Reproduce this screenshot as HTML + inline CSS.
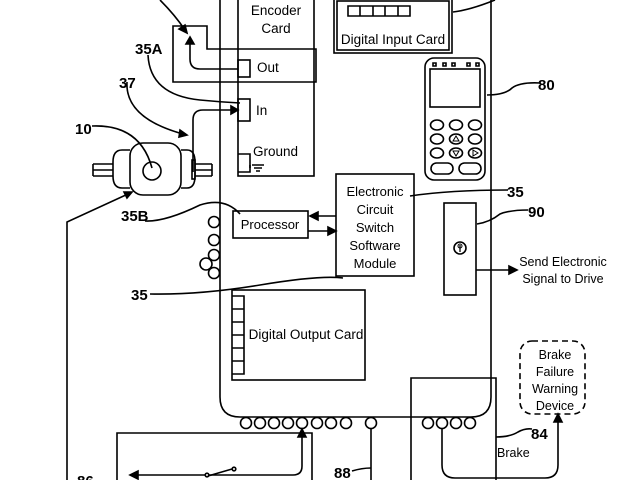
<!DOCTYPE html>
<html><head><meta charset="utf-8"><style>
html,body{margin:0;padding:0;background:#fff}
svg{display:block}
text{font-family:"Liberation Sans",sans-serif;fill:#000}
.b{font-family:"Liberation Sans",sans-serif;font-weight:bold}
</style></head><body>
<svg width="640" height="480" viewBox="0 0 640 480" xmlns="http://www.w3.org/2000/svg">
<g fill="none" stroke="#000" stroke-width="1.6">
<path d="M220,0 V397 Q220,417 240,417 H471 Q491,417 491,397 V0"/>
<rect x="238" y="-2" width="76" height="178"/>
<path d="M173,26 H207 V49 H316 V82 H173 Z"/>
<rect x="238" y="60" width="12" height="17"/>
<rect x="238" y="99" width="12" height="22"/>
<path d="M238,154 H250 V172 H238"/>
<path d="M250,165 V168 M252,165 H264 M254,168 H262 M256,171 H260"/>
<path d="M238,69 H200 Q190,69 190,59 V40"/>
<path d="M190,37 l-4,7 h8 z" fill="#000"/>
<path d="M148,55 Q150,95 200,100 Q220,102 240,103"/>
<path d="M193,172 V120 Q193,110 203,110 H233"/>
<path d="M238,110 l-7,-4 v8 z" fill="#000"/>
<path d="M127,82 Q125,118 183,134"/>
<path d="M187,135 l-7,-5 l-1,7 z" fill="#000"/>
<path d="M160,0 Q175,15 185,30"/>
<path d="M187,33 l-2,-8 l-6,4 z" fill="#000"/>
<rect x="130" y="143" width="51" height="52" rx="13"/>
<path d="M130,150 H122 Q113,150 113,162 V176 Q113,188 122,188 H130"/>
<path d="M181,150 H187 Q195,150 195,162 V176 Q195,188 187,188 H181"/>
<rect x="192" y="160" width="3" height="19"/>
<path d="M93,164 H113 M93,170 H113 M93,176 H113 M93,164 V176"/>
<path d="M195,164 H212 M195,170 H212 M195,176 H212 M212,164 V176"/>
<circle cx="152" cy="171" r="9"/>
<path d="M92,126 Q140,124 152,168"/>
<path d="M67,480 V222 L128,194"/>
<path d="M132,192 l-8,0 l3,6 z" fill="#000"/>
<path d="M145,221 Q165,222 200,205 Q225,197 240,214"/>
<circle cx="214" cy="222" r="5.5"/>
<circle cx="214" cy="240" r="5.5"/>
<circle cx="214" cy="255" r="5.5"/>
<circle cx="214" cy="273" r="5.5"/>
<circle cx="206" cy="264" r="6"/>
<rect x="334" y="-2" width="118" height="55"/>
<rect x="337" y="1" width="112" height="49"/>
<path d="M348,6 H410 V16 H348 Z M360,6 V16 M373,6 V16 M385,6 V16 M398,6 V16"/>
<path d="M453,12 Q470,10 495,0"/>
<rect x="425" y="58" width="60" height="122" rx="9"/>
<rect x="430" y="69" width="50" height="38"/>
<path d="M433,63h3v3h-3z M443,63h3v3h-3z M452,63h3v3h-3z M467,63h3v3h-3z M476,63h3v3h-3z"/>
<ellipse cx="437" cy="125" rx="6.5" ry="5"/><ellipse cx="456" cy="125" rx="6.5" ry="5"/><ellipse cx="475" cy="125" rx="6.5" ry="5"/>
<ellipse cx="437" cy="139" rx="6.5" ry="5"/><ellipse cx="456" cy="139" rx="6.5" ry="5"/><ellipse cx="475" cy="139" rx="6.5" ry="5"/>
<ellipse cx="437" cy="153" rx="6.5" ry="5"/><ellipse cx="456" cy="153" rx="6.5" ry="5"/><ellipse cx="475" cy="153" rx="6.5" ry="5"/>
<path d="M453,141 l3,-5 l3,5 z M453,151 l3,5 l3,-5 z M473,150 l5,3 l-5,3 z" stroke-width="1"/>
<rect x="431" y="163" width="22" height="11" rx="5.5"/><rect x="459" y="163" width="22" height="11" rx="5.5"/>
<path d="M487,95 Q505,95 512,88 Q520,82 540,83"/>
<rect x="336" y="174" width="78" height="102"/>
<path d="M410,196 Q450,190 508,190"/>
<rect x="233" y="211" width="75" height="27"/>
<path d="M336,216 H316"/><path d="M310,216 l8,-4 v8 z" fill="#000"/>
<path d="M308,231 H330"/><path d="M336,231 l-8,-4 v8 z" fill="#000"/>
<path d="M150,294 Q200,295 260,285 Q320,275 343,278"/>
<rect x="444" y="203" width="32" height="92"/>
<circle cx="460" cy="248" r="6"/><path d="M460,245 v7" stroke-width="1.3"/><circle cx="460" cy="246" r="2" stroke-width="1"/>
<path d="M477,224 Q490,222 500,214 Q510,210 528,210"/>
<path d="M476,270 H510"/><path d="M517,270 l-8,-4 v8 z" fill="#000"/>
<rect x="232" y="290" width="133" height="90"/>
<path d="M232,296 H244 V374 H232 M232,309 H244 M232,322 H244 M232,335 H244 M232,348 H244 M232,361 H244"/>
<circle cx="246" cy="423" r="5.5"/><circle cx="260" cy="423" r="5.5"/><circle cx="274" cy="423" r="5.5"/><circle cx="288" cy="423" r="5.5"/><circle cx="302" cy="423" r="5.5"/><circle cx="317" cy="423" r="5.5"/><circle cx="331" cy="423" r="5.5"/><circle cx="346" cy="423" r="5.5"/>
<circle cx="371" cy="423" r="5.5"/>
<circle cx="428" cy="423" r="5.5"/><circle cx="442" cy="423" r="5.5"/><circle cx="456" cy="423" r="5.5"/><circle cx="470" cy="423" r="5.5"/>
<path d="M117,480 V433 H312 V480"/>
<path d="M302,437 V466 Q302,475 293,475 H136"/>
<path d="M302,429 l-4,8 h8 z" fill="#000"/>
<path d="M130,475 l8,-4 v8 z" fill="#000"/>
<circle cx="207" cy="475" r="1.8" fill="#fff"/><path d="M208,476 L232,469" /><circle cx="234" cy="469" r="1.8" fill="#fff"/>
<path d="M371,429 V480"/><path d="M352,471 Q362,468 371,468"/>
<path d="M411,480 V378 H496 V480"/>
<path d="M442,429 V465 Q442,478 455,478 H545 Q558,478 558,465 V422"/>
<path d="M558,414 l-4,8 h8 z" fill="#000"/>
<path d="M496,437 Q510,437 518,432 Q525,428 532,429"/>
<rect x="520" y="341" width="65" height="73" rx="12" stroke-dasharray="6,4"/>
</g>
<text x="276" y="15" font-size="13.5" text-anchor="middle">Encoder</text>
<text x="276" y="33" font-size="13.5" text-anchor="middle">Card</text>
<text x="257" y="72" font-size="13.5">Out</text>
<text x="256" y="115" font-size="13.5">In</text>
<text x="253" y="156" font-size="13.5">Ground</text>
<text x="393" y="44" font-size="13.5" text-anchor="middle">Digital Input Card</text>
<text x="375" y="196" font-size="13" text-anchor="middle">Electronic</text>
<text x="375" y="214" font-size="13" text-anchor="middle">Circuit</text>
<text x="375" y="232" font-size="13" text-anchor="middle">Switch</text>
<text x="375" y="250" font-size="13" text-anchor="middle">Software</text>
<text x="375" y="268" font-size="13" text-anchor="middle">Module</text>
<text x="270" y="229" font-size="13" text-anchor="middle">Processor</text>
<text x="306" y="339" font-size="13.5" text-anchor="middle">Digital Output Card</text>
<text x="563" y="266" font-size="12.5" text-anchor="middle">Send  Electronic</text>
<text x="563" y="283" font-size="12.5" text-anchor="middle">Signal to Drive</text>
<text x="555" y="359" font-size="12.5" text-anchor="middle">Brake</text>
<text x="555" y="376" font-size="12.5" text-anchor="middle">Failure</text>
<text x="555" y="393" font-size="12.5" text-anchor="middle">Warning</text>
<text x="555" y="410" font-size="12.5" text-anchor="middle">Device</text>
<text x="497" y="457" font-size="12.5">Brake</text>
<g class="b" font-size="15">
<text x="135" y="54">35A</text>
<text x="119" y="88">37</text>
<text x="75" y="134">10</text>
<text x="121" y="221">35B</text>
<text x="131" y="300">35</text>
<text x="538" y="90">80</text>
<text x="507" y="197">35</text>
<text x="528" y="217">90</text>
<text x="531" y="439">84</text>
<text x="334" y="478">88</text>
<text x="77" y="486">86</text>
</g>
</svg>
</body></html>
